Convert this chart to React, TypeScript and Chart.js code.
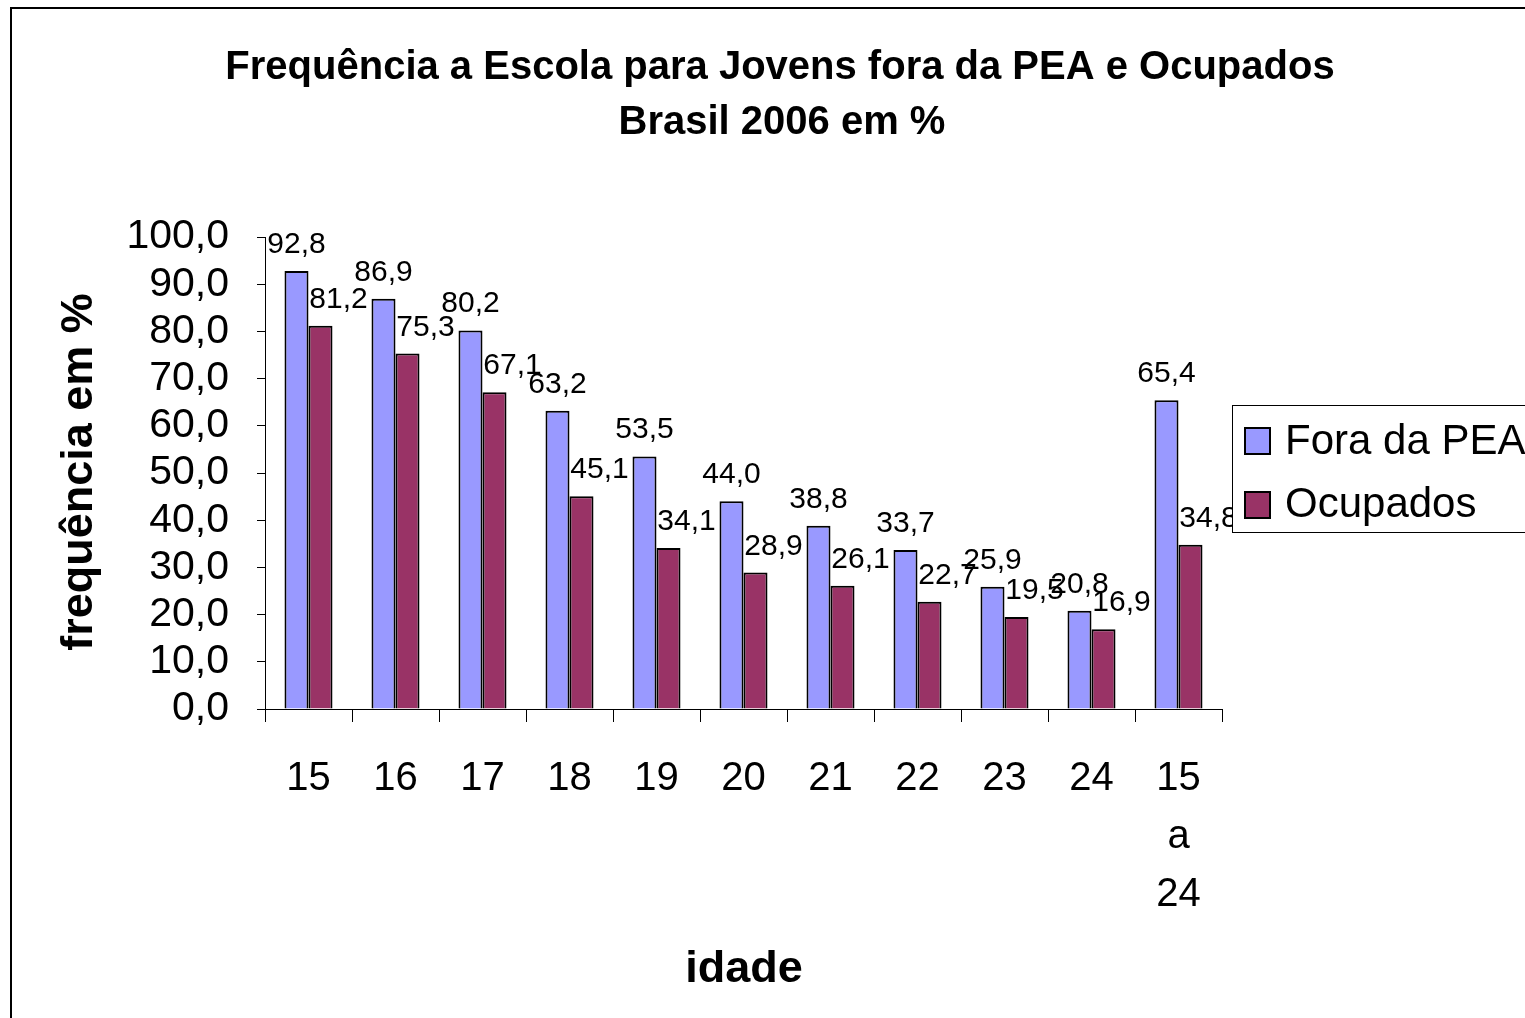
import React, { useEffect, useRef } from "react";
import { Chart, registerables } from "chart.js";

Chart.register(...registerables);

const categories: (string | string[])[] = ["15", "16", "17", "18", "19", "20", "21", "22", "23", "24", ["15", "a", "24"]];
const foraDaPEA = [92.8, 86.9, 80.2, 63.2, 53.5, 44.0, 38.8, 33.7, 25.9, 20.8, 65.4];
const ocupados = [81.2, 75.3, 67.1, 45.1, 34.1, 28.9, 26.1, 22.7, 19.5, 16.9, 34.8];
const seriesNames = ["Fora da PEA", "Ocupados"];
const titleLines = ["Frequência a Escola para Jovens fora da PEA e Ocupados", "Brasil 2006 em %"];
const yAxisTitle = "frequência em %";
const xAxisTitle = "idade";
const yMin = 0;
const yMax = 100;
const yStep = 10;

const FONT = "'Liberation Sans', Arial, Helvetica, sans-serif";
const BLUE = "#9999FF";
const RED = "#993366";

const fmt = (v: number) => v.toFixed(1).replace(".", ",");

const decorations = {
  id: "decorations",
  afterDatasetsDraw(chart: any) {
    const ctx = chart.ctx;
    ctx.save();
    ctx.fillStyle = "#000";
    ctx.font = `30px ${FONT}`;
    ctx.textAlign = "center";
    ctx.textBaseline = "alphabetic";
    chart.data.datasets.forEach((ds: any, di: number) => {
      const meta = chart.getDatasetMeta(di);
      meta.data.forEach((el: any, i: number) => {
        const dx = di === 0 ? 0 : 18;
        ctx.fillText(fmt(ds.data[i]), el.x + dx, el.y - 18);
      });
    });
    ctx.restore();
  },
  afterDraw(chart: any) {
    const ctx = chart.ctx;
    ctx.save();
    // outer border
    ctx.strokeStyle = "#000";
    ctx.lineWidth = 2;
    ctx.beginPath();
    ctx.moveTo(11, 2000);
    ctx.lineTo(11, 8);
    ctx.lineTo(3000, 8);
    ctx.stroke();

    // title
    ctx.fillStyle = "#000";
    ctx.textAlign = "center";
    ctx.textBaseline = "middle";
    ctx.font = `bold 40px ${FONT}`;
    ctx.fillText(titleLines[0], 780, 68);
    ctx.fillText(titleLines[1], 782, 123);

    // axis titles
    ctx.font = `bold 45px ${FONT}`;
    ctx.fillText(xAxisTitle, 744, 970);

    ctx.save();
    ctx.translate(80, 472);
    ctx.rotate(-Math.PI / 2);
    ctx.fillText(yAxisTitle, 0, 0);
    ctx.restore();

    // legend
    ctx.lineWidth = 1;
    ctx.strokeStyle = "#000";
    ctx.fillStyle = "#fff";
    ctx.fillRect(1232.5, 405.5, 400, 127);
    ctx.strokeRect(1232.5, 405.5, 400, 127);
    const colors = [BLUE, RED];
    const ys = [428, 492];
    const ty = [442, 505];
    ctx.font = `42px ${FONT}`;
    ctx.textAlign = "left";
    ctx.textBaseline = "middle";
    seriesNames.forEach((name, i) => {
      ctx.fillStyle = colors[i];
      ctx.fillRect(1245, ys[i], 25, 26);
      ctx.lineWidth = 2;
      ctx.strokeRect(1245, ys[i], 25, 26);
      ctx.fillStyle = "#000";
      ctx.fillText(name, 1285, ty[i]);
    });
    ctx.restore();
  },
};

export default function App() {
  const ref = useRef<HTMLCanvasElement | null>(null);
  useEffect(() => {
    if (!ref.current) return;
    const chart = new Chart(ref.current, {
      type: "bar",
      data: {
        labels: categories as any,
        datasets: [
          {
            label: seriesNames[0],
            data: foraDaPEA,
            backgroundColor: BLUE,
            borderColor: "#000",
            borderWidth: 2,
            categoryPercentage: 0.552,
            barPercentage: 1,
          },
          {
            label: seriesNames[1],
            data: ocupados,
            backgroundColor: RED,
            borderColor: "#000",
            borderWidth: 2,
            categoryPercentage: 0.552,
            barPercentage: 1,
          },
        ],
      },
      options: {
        responsive: false,
        animation: false,
        devicePixelRatio: 1,
        layout: { padding: { left: 0, top: 237, right: 303, bottom: 0 } },
        plugins: {
          legend: { display: false },
          title: { display: false },
          tooltip: { enabled: false },
        },
        scales: {
          x: {
            offset: true,
            grid: {
              display: true,
              offset: true,
              drawOnChartArea: false,
              drawTicks: true,
              tickLength: 13,
              color: "#000",
            },
            border: { display: true, color: "#000", width: 1 },
            ticks: {
              color: "#000",
              font: { family: FONT, size: 40, lineHeight: 1.45 },
              padding: 28,
              maxRotation: 0,
              autoSkip: false,
            },
            afterFit: (s: any) => {
              s.height = 309;
            },
          },
          y: {
            min: yMin,
            max: yMax,
            grid: {
              display: true,
              drawOnChartArea: false,
              drawTicks: true,
              tickLength: 8,
              color: "#000",
            },
            border: { display: true, color: "#000", width: 1 },
            ticks: {
              stepSize: yStep,
              autoSkip: false,
              color: "#000",
              font: { family: FONT, size: 41 },
              padding: 28,
              callback: (v: any) => fmt(Number(v)),
            },
            afterFit: (s: any) => {
              s.width = 265;
            },
          },
        },
      } as any,
      plugins: [decorations],
    });
    return () => chart.destroy();
  }, []);

  return (
    <div style={{ position: "fixed", left: 0, top: 0, width: 1525, height: 1018, overflow: "hidden", background: "#fff" }}>
      <canvas ref={ref} width={1525} height={1018} style={{ display: "block" }} />
    </div>
  );
}
